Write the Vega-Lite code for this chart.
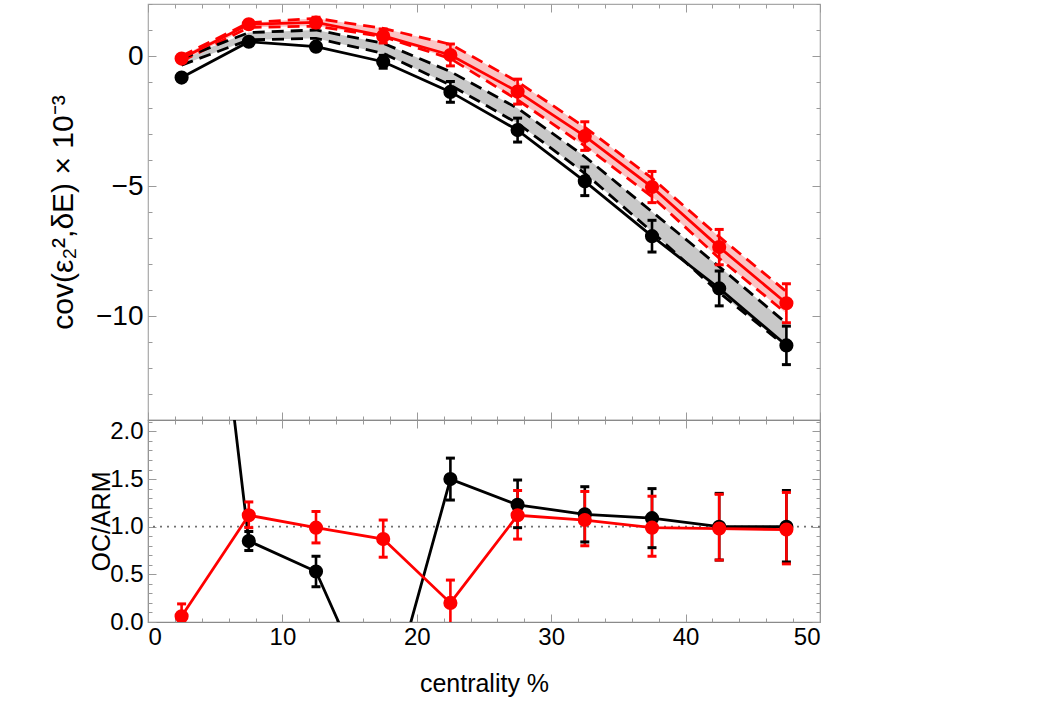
{
  "$schema": "https://vega.github.io/schema/vega-lite/v6.json",
  "background": "white",
  "padding": {"left": 47, "top": 2, "right": 5, "bottom": 5},
  "spacing": 0,
  "bounds": "flush",
  "config": {
    "font": "Liberation Sans",
    "view": {"stroke": "#a8a8a8", "strokeWidth": 1.2},
    "axis": {
      "grid": false,
      "domain": false,
      "tickColor": "#9a9a9a",
      "tickWidth": 1,
      "labelFont": "Liberation Sans",
      "labelFontSize": 24,
      "labelColor": "#000",
      "titleFont": "Liberation Sans",
      "titleFontSize": 25,
      "titleFontWeight": "normal",
      "titleColor": "#000"
    }
  },
  "datasets": {
    "cov": [
      {"c": 2.5, "s": "a", "v": -0.83, "elo": -0.91, "ehi": -0.75, "lo": -0.35, "hi": -0.1},
      {"c": 7.5, "s": "a", "v": 0.55, "elo": 0.45, "ehi": 0.65, "lo": 0.62, "hi": 0.9},
      {"c": 12.5, "s": "a", "v": 0.36, "elo": 0.24, "ehi": 0.48, "lo": 0.68, "hi": 1.0},
      {"c": 17.5, "s": "a", "v": -0.22, "elo": -0.47, "ehi": 0.03, "lo": 0.1, "hi": 0.49},
      {"c": 22.5, "s": "a", "v": -1.38, "elo": -1.78, "ehi": -0.98, "lo": -1.12, "hi": -0.6},
      {"c": 27.5, "s": "a", "v": -2.85, "elo": -3.31, "ehi": -2.39, "lo": -2.59, "hi": -2.01},
      {"c": 32.5, "s": "a", "v": -4.82, "elo": -5.37, "ehi": -4.27, "lo": -4.51, "hi": -3.87},
      {"c": 37.5, "s": "a", "v": -6.93, "elo": -7.54, "ehi": -6.32, "lo": -6.76, "hi": -5.99},
      {"c": 42.5, "s": "a", "v": -8.94, "elo": -9.61, "ehi": -8.27, "lo": -9.1, "hi": -8.1},
      {"c": 47.5, "s": "a", "v": -11.13, "elo": -11.87, "ehi": -10.39, "lo": -11.18, "hi": -10.28},
      {"c": 2.5, "s": "b", "v": -0.1, "elo": -0.2, "ehi": 0.0, "lo": -0.2, "hi": 0.0},
      {"c": 7.5, "s": "b", "v": 1.22, "elo": 1.07, "ehi": 1.37, "lo": 1.1, "hi": 1.28},
      {"c": 12.5, "s": "b", "v": 1.29, "elo": 1.09, "ehi": 1.49, "lo": 1.15, "hi": 1.45},
      {"c": 17.5, "s": "b", "v": 0.77, "elo": 0.5, "ehi": 1.04, "lo": 0.74, "hi": 1.06},
      {"c": 22.5, "s": "b", "v": 0.04, "elo": -0.38, "ehi": 0.46, "lo": -0.1, "hi": 0.45},
      {"c": 27.5, "s": "b", "v": -1.37, "elo": -1.85, "ehi": -0.89, "lo": -1.69, "hi": -0.99},
      {"c": 32.5, "s": "b", "v": -3.08, "elo": -3.63, "ehi": -2.53, "lo": -3.46, "hi": -2.74},
      {"c": 37.5, "s": "b", "v": -5.04, "elo": -5.64, "ehi": -4.44, "lo": -5.41, "hi": -4.7},
      {"c": 42.5, "s": "b", "v": -7.35, "elo": -8.03, "ehi": -6.67, "lo": -7.78, "hi": -6.95},
      {"c": 47.5, "s": "b", "v": -9.51, "elo": -10.26, "ehi": -8.76, "lo": -9.9, "hi": -9.06}
    ],
    "ratio": [
      {"c": 2.5, "s": "a", "v": 6.8, "elo": 6.4, "ehi": 7.2},
      {"c": 7.5, "s": "a", "v": 0.85, "elo": 0.75, "ehi": 0.95},
      {"c": 12.5, "s": "a", "v": 0.53, "elo": 0.37, "ehi": 0.69},
      {"c": 17.5, "s": "a", "v": -1.05, "elo": -1.25, "ehi": -0.85},
      {"c": 22.5, "s": "a", "v": 1.5, "elo": 1.28, "ehi": 1.72},
      {"c": 27.5, "s": "a", "v": 1.23, "elo": 0.99, "ehi": 1.49},
      {"c": 32.5, "s": "a", "v": 1.13, "elo": 0.84, "ehi": 1.42},
      {"c": 37.5, "s": "a", "v": 1.09, "elo": 0.78, "ehi": 1.4},
      {"c": 42.5, "s": "a", "v": 1.0, "elo": 0.65, "ehi": 1.35},
      {"c": 47.5, "s": "a", "v": 1.0, "elo": 0.63, "ehi": 1.38},
      {"c": 2.5, "s": "b", "v": 0.06, "elo": -0.07, "ehi": 0.19},
      {"c": 7.5, "s": "b", "v": 1.12, "elo": 0.99, "ehi": 1.26},
      {"c": 12.5, "s": "b", "v": 0.99, "elo": 0.83, "ehi": 1.16},
      {"c": 17.5, "s": "b", "v": 0.87, "elo": 0.68, "ehi": 1.07},
      {"c": 22.5, "s": "b", "v": 0.2, "elo": -0.02, "ehi": 0.44},
      {"c": 27.5, "s": "b", "v": 1.12, "elo": 0.87, "ehi": 1.38},
      {"c": 32.5, "s": "b", "v": 1.07, "elo": 0.8, "ehi": 1.37},
      {"c": 37.5, "s": "b", "v": 0.99, "elo": 0.69, "ehi": 1.32},
      {"c": 42.5, "s": "b", "v": 0.98, "elo": 0.65, "ehi": 1.34},
      {"c": 47.5, "s": "b", "v": 0.97, "elo": 0.61, "ehi": 1.36}
    ]
  },
  "vconcat": [
    {
      "width": 672,
      "height": 416,
      "data": {"name": "cov"},
      "resolve": {"axis": {"x": "independent", "y": "independent"}},
      "layer": [
        {
          "mark": {"type": "area", "opacity": 1},
          "encoding": {
            "x": {"field": "c", "type": "quantitative", "scale": {"domain": [0, 50], "nice": false},
                  "axis": {"orient": "bottom", "values": [0, 10, 20, 30, 40, 50], "labels": false, "tickSize": -8, "title": null}},
            "y": {"field": "lo", "type": "quantitative", "scale": {"domain": [-14, 2], "nice": false},
                  "axis": {"orient": "left", "values": [-10, -5, 0], "format": "d", "tickSize": -8, "labelPadding": 13, "labelFontSize": 28, "title": "cov(ε₂²,δE) × 10⁻³", "titleFontSize": 30, "titlePadding": 17}},
            "y2": {"field": "hi"},
            "fill": {"field": "s", "type": "nominal", "scale": {"domain": ["a", "b"], "range": ["#c8c8c8", "#fbc4c4"]}, "legend": null}
          }
        },
        {
          "mark": {"type": "line", "strokeDash": [12, 7], "strokeWidth": 2.8},
          "encoding": {
            "x": {"field": "c", "type": "quantitative",
                  "axis": {"orient": "bottom", "values": [2, 4, 6, 8, 12, 14, 16, 18, 22, 24, 26, 28, 32, 34, 36, 38, 42, 44, 46, 48], "labels": false, "tickSize": -4, "title": null}},
            "y": {"field": "lo", "type": "quantitative",
                  "axis": {"orient": "left", "values": [-13, -12, -11, -9, -8, -7, -6, -4, -3, -2, -1, 1, 2], "labels": false, "tickSize": -4, "title": null}},
            "color": {"field": "s", "type": "nominal", "scale": {"domain": ["a", "b"], "range": ["#000000", "#ff0000"]}, "legend": null}
          }
        },
        {
          "mark": {"type": "line", "strokeDash": [12, 7], "strokeWidth": 2.8},
          "encoding": {
            "x": {"field": "c", "type": "quantitative",
                  "axis": {"orient": "top", "values": [0, 10, 20, 30, 40, 50], "labels": false, "tickSize": -8, "title": null}},
            "y": {"field": "hi", "type": "quantitative",
                  "axis": {"orient": "right", "values": [-10, -5, 0], "labels": false, "tickSize": -8, "title": null}},
            "color": {"field": "s", "type": "nominal", "legend": null}
          }
        },
        {
          "mark": {"type": "line", "strokeWidth": 2.8},
          "encoding": {
            "x": {"field": "c", "type": "quantitative",
                  "axis": {"orient": "top", "values": [2, 4, 6, 8, 12, 14, 16, 18, 22, 24, 26, 28, 32, 34, 36, 38, 42, 44, 46, 48], "labels": false, "tickSize": -4, "title": null}},
            "y": {"field": "v", "type": "quantitative",
                  "axis": {"orient": "right", "values": [-13, -12, -11, -9, -8, -7, -6, -4, -3, -2, -1, 1, 2], "labels": false, "tickSize": -4, "title": null}},
            "color": {"field": "s", "type": "nominal", "legend": null}
          }
        },
        {
          "mark": {"type": "rule", "strokeWidth": 2.6, "opacity": 1},
          "encoding": {
            "x": {"field": "c", "type": "quantitative", "axis": null},
            "y": {"field": "elo", "type": "quantitative", "axis": null},
            "y2": {"field": "ehi"},
            "color": {"field": "s", "type": "nominal", "legend": null}
          }
        },
        {
          "mark": {"type": "tick", "orient": "horizontal", "size": 9, "thickness": 3, "opacity": 1},
          "encoding": {
            "x": {"field": "c", "type": "quantitative", "axis": null},
            "y": {"field": "elo", "type": "quantitative", "axis": null},
            "color": {"field": "s", "type": "nominal", "legend": null}
          }
        },
        {
          "mark": {"type": "tick", "orient": "horizontal", "size": 9, "thickness": 3, "opacity": 1},
          "encoding": {
            "x": {"field": "c", "type": "quantitative", "axis": null},
            "y": {"field": "ehi", "type": "quantitative", "axis": null},
            "color": {"field": "s", "type": "nominal", "legend": null}
          }
        },
        {
          "mark": {"type": "point", "filled": true, "size": 200, "opacity": 1},
          "encoding": {
            "x": {"field": "c", "type": "quantitative", "axis": null},
            "y": {"field": "v", "type": "quantitative", "axis": null},
            "color": {"field": "s", "type": "nominal", "legend": null}
          }
        }
      ]
    },
    {
      "width": 672,
      "height": 202,
      "view": {"stroke": "#8a8a8a", "strokeWidth": 1.2},
      "data": {"name": "ratio"},
      "resolve": {"axis": {"x": "independent", "y": "independent"}},
      "layer": [
        {
          "data": {"values": [{}]},
          "mark": {"type": "rule", "strokeDash": [2, 5], "strokeWidth": 1.8, "color": "#707070"},
          "encoding": {
            "y": {"datum": 1, "type": "quantitative", "scale": {"domain": [0, 2.12], "nice": false}, "axis": null}
          }
        },
        {
          "mark": {"type": "line", "strokeWidth": 2.8, "clip": true},
          "encoding": {
            "x": {"field": "c", "type": "quantitative", "scale": {"domain": [0, 50], "nice": false},
                  "axis": {"orient": "bottom", "values": [0, 10, 20, 30, 40, 50], "format": "d", "tickSize": -8, "labelPadding": 11, "title": "centrality %", "titlePadding": 22}},
            "y": {"field": "v", "type": "quantitative",
                  "axis": {"orient": "left", "values": [0, 0.5, 1, 1.5, 2], "format": ".1f", "tickSize": -8, "labelPadding": 13, "title": "OC/ARM", "titlePadding": -5}},
            "color": {"field": "s", "type": "nominal", "scale": {"domain": ["a", "b"], "range": ["#000000", "#ff0000"]}, "legend": null}
          }
        },
        {
          "mark": {"type": "rule", "strokeWidth": 2.6, "opacity": 1, "clip": true},
          "encoding": {
            "x": {"field": "c", "type": "quantitative",
                  "axis": {"orient": "bottom", "values": [2, 4, 6, 8, 12, 14, 16, 18, 22, 24, 26, 28, 32, 34, 36, 38, 42, 44, 46, 48], "labels": false, "tickSize": -4, "title": null}},
            "y": {"field": "elo", "type": "quantitative",
                  "axis": {"orient": "left", "values": [0.1, 0.2, 0.3, 0.4, 0.6, 0.7, 0.8, 0.9, 1.1, 1.2, 1.3, 1.4, 1.6, 1.7, 1.8, 1.9, 2.1], "labels": false, "tickSize": -4, "title": null}},
            "y2": {"field": "ehi"},
            "color": {"field": "s", "type": "nominal", "legend": null}
          }
        },
        {
          "mark": {"type": "tick", "orient": "horizontal", "size": 9, "thickness": 3, "opacity": 1, "clip": true},
          "encoding": {
            "x": {"field": "c", "type": "quantitative",
                  "axis": {"orient": "top", "values": [0, 10, 20, 30, 40, 50], "labels": false, "tickSize": -8, "title": null}},
            "y": {"field": "elo", "type": "quantitative",
                  "axis": {"orient": "right", "values": [0, 0.5, 1, 1.5, 2], "labels": false, "tickSize": -8, "title": null}},
            "color": {"field": "s", "type": "nominal", "legend": null}
          }
        },
        {
          "mark": {"type": "tick", "orient": "horizontal", "size": 9, "thickness": 3, "opacity": 1, "clip": true},
          "encoding": {
            "x": {"field": "c", "type": "quantitative",
                  "axis": {"orient": "top", "values": [2, 4, 6, 8, 12, 14, 16, 18, 22, 24, 26, 28, 32, 34, 36, 38, 42, 44, 46, 48], "labels": false, "tickSize": -4, "title": null}},
            "y": {"field": "ehi", "type": "quantitative",
                  "axis": {"orient": "right", "values": [0.1, 0.2, 0.3, 0.4, 0.6, 0.7, 0.8, 0.9, 1.1, 1.2, 1.3, 1.4, 1.6, 1.7, 1.8, 1.9, 2.1], "labels": false, "tickSize": -4, "title": null}},
            "color": {"field": "s", "type": "nominal", "legend": null}
          }
        },
        {
          "mark": {"type": "point", "filled": true, "size": 200, "opacity": 1, "clip": true},
          "encoding": {
            "x": {"field": "c", "type": "quantitative", "axis": null},
            "y": {"field": "v", "type": "quantitative", "axis": null},
            "color": {"field": "s", "type": "nominal", "legend": null}
          }
        }
      ]
    }
  ]
}
